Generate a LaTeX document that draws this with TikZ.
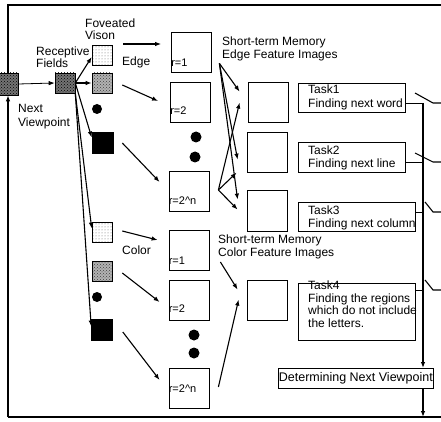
\documentclass[tikz,border=0pt]{standalone}
\usepackage{fontspec}
\setmainfont{Liberation Sans}
\usetikzlibrary{arrows.meta,calc,patterns}
\begin{document}
\begin{tikzpicture}[x=1pt,y=-1pt,
  every node/.style={font=\fontsize{12}{13}\selectfont},
  txt/.style={inner sep=0pt, align=left, anchor=west},
  tasktxt/.style={inner sep=0pt, align=left, anchor=north west},
  rbox/.style={draw, line width=0.8pt, minimum width=40pt, minimum height=40pt, inner sep=0pt},
  sq/.style={draw, line width=0.6pt, minimum width=20pt, minimum height=20pt, inner sep=0pt},
  lightsq/.style={sq, preaction={fill=white}, pattern=dots, pattern color=black!60},
  medsq/.style={sq, preaction={fill=black!30}, pattern=crosshatch dots, pattern color=black!75},
  darksq/.style={sq, preaction={fill=black!55}, pattern=crosshatch dots, pattern color=black},
  blacksq/.style={sq, fill=black},
  dotc/.style={circle, fill=black, minimum size=10pt, inner sep=0pt},
  taskbox/.style={draw, line width=0.7pt, inner sep=0pt, anchor=north west},
  arr/.style={line width=1.1pt, -{Latex[length=6pt,width=4.5pt]}},
  ln/.style={line width=1.1pt},
  frameline/.style={line width=1.6pt},
  rlab/.style={font=\fontsize{11}{11}\selectfont, inner sep=0pt, anchor=base west},
]
\useasboundingbox (0,0) rectangle (441,422);

% frame corners
\coordinate (tl) at (8,5);
\coordinate (tr) at (441,5);
\coordinate (bl) at (8,417);
\coordinate (br) at (441,417);
\draw[frameline] (tr) -- (tl) -- (8,73);
\draw[frameline] (br) -- (bl);

% small squares
\node[darksq, minimum width=20pt, minimum height=22pt] (nv) at (8,84) {};
\node[darksq] (rf) at (65,83) {};
\node[lightsq] (e1) at (102,55) {};
\node[medsq] (e2) at (102,83) {};
\node[dotc] (ed) at (97,109) {};
\node[blacksq, minimum size=21pt] (e3) at (102.5,142.5) {};
\node[lightsq] (c1) at (102,232.5) {};
\node[medsq] (c2) at (102,271) {};
\node[dotc] (cd) at (97,297) {};
\node[blacksq, minimum size=21pt] (c3) at (102,329.5) {};

% r boxes
\node[rbox] (er1) at (191.5,52.5) {};
\node[rbox] (er2) at (190.5,102) {};
\node[dotc, minimum size=11pt] (erd1) at (196,137) {};
\node[dotc, minimum size=11pt] (erd2) at (195,157) {};
\node[rbox] (ern) at (189,191) {};
\node[rbox] (cr1) at (189,250) {};
\node[rbox] (cr2) at (189,300.5) {};
\node[dotc, minimum size=11pt] (crd1) at (194,335) {};
\node[dotc, minimum size=11pt] (crd2) at (194,353) {};
\node[rbox] (crn) at (189,388) {};

\node[rlab] (er1l) at ([yshift=6pt]er1.south west) {r=1};
\node[rlab] (er2l) at ([yshift=8pt]er2.south west) {r=2};
\node[rlab] (ernl) at ([yshift=7pt]ern.south west) {r=2\textasciicircum n};
\node[rlab] (cr1l) at ([yshift=6pt]cr1.south west) {r=1};
\node[rlab] (cr2l) at ([yshift=8pt]cr2.south west) {r=2};
\node[rlab] (crnl) at ([yshift=16pt]crn.south west) {r=2\textasciicircum n};

% memory boxes
\node[rbox] (m1) at (268.5,102) {};
\node[rbox] (m2) at (267,152) {};
\node[rbox, minimum height=41pt] (m3) at (267,210.5) {};
\node[rbox] (cm) at (267,300) {};

% tasks
\node[taskbox, minimum width=107pt, minimum height=29pt] (t1) at (298,83) {};
\node[taskbox, minimum width=107pt, minimum height=30pt] (t2) at (298,142) {};
\node[taskbox, minimum width=117pt, minimum height=29pt] (t3) at (298,202) {};
\node[taskbox, minimum width=117pt, minimum height=57pt] (t4) at (298,283) {};
\node[tasktxt, font=\fontsize{12}{13.5}\selectfont] (t1x) at (308,85) {Task1\\Finding next word};
\node[tasktxt, font=\fontsize{12}{13.4}\selectfont] (t2x) at (308,145.2) {Task2\\Finding next line};
\node[tasktxt, font=\fontsize{12}{13.3}\selectfont] (t3x) at (308,205.7) {Task3\\Finding next column};
\node[tasktxt, font=\fontsize{12}{12.5}\selectfont] (t4x) at (308,281) {Task4\\Finding the regions\\which do not include\\the letters.};
\node[taskbox, minimum width=155pt, minimum height=20pt, font=\fontsize{12.5}{13}\selectfont] (det) at (278,368) {Determining Next Viewpoint};

% labels
\node[txt, font=\fontsize{12}{12}\selectfont] (fov) at (85,29) {Foveated\\Vison};
\node[txt, font=\fontsize{12}{12}\selectfont] (rec) at (36,57.5) {Receptive\\Fields};
\node[txt] (edge) at (122,62) {Edge};
\node[txt, font=\fontsize{12}{14}\selectfont] (nvt) at (18,117) {Next\\Viewpoint};
\node[txt] (col) at (122,250) {Color};
\node[txt] (stme) at (222,48.5) {Short-term Memory\\Edge Feature Images};
\node[txt] (stmc) at (218,246.5) {Short-term Memory\\Color Feature Images};

% feedback loop
\draw[frameline, -{Latex[length=6pt,width=4.5pt]}] (bl) -- (nv.south);
\draw[arr, line width=0.8pt] (nv.east) -- (rf.west);

% receptive field to feature squares
\draw[arr] (rf.east) -- ([yshift=-2pt]e1.west);
\draw[arr] (rf.east) -- (e2.west);
\draw[arr] (rf.east) -- ([yshift=5pt]e3.west);
\draw[arr] (rf.south east) -- ([yshift=4pt]c1.west);
\draw[arr] (rf.south east) -- ([yshift=3pt]c3.west);

% squares to r boxes
\draw[arr] ($(e1.east)+(11,-11)$) -- ($(er1.west)+(-10,-8.5)$);
\draw[arr] ($(e2.east)+(10,2)$) -- ($(er2.west)+(-12,-1)$);
\draw[arr] ($(e3.east)+(9,0.5)$) -- ($(ern.west)+(-9,-9)$);
\draw[arr] ($(c1.east)+(10,-1.5)$) -- ($(cr1.west)+(-11,-10)$);
\draw[arr] ($(c2.east)+(10,2)$) -- ($(cr2.west)+(-9,1.5)$);
\draw[arr] ($(c3.east)+(10,2.5)$) -- ($(crn.west)+(-9,-8)$);

% fans to memory
\coordinate (p1) at ($(er1.south east)+(7.5,-9.5)$);
\coordinate (p2) at ($(ern.east)+(9,-1)$);
\coordinate (p3) at ($(cr1.east)+(11,12)$);
\coordinate (p4) at ($(crn.east)+(9,-1)$);
\draw[arr] (p1) -- ($(m1.north west)+(-8.5,10)$);
\draw[arr] (p1) -- ($(m2.north west)+(-9,28)$);
\draw[arr] (p1) -- ($(m3.north west)+(-9,10)$);
\draw[arr] (p2) -- ($(m1.north west)+(-8.5,21)$);
\draw[arr] (p2) -- ($(m2.north west)+(-10,41)$);
\draw[arr] (p2) -- ($(m3.north west)+(-9,20)$);
\draw[arr] (p3) -- ($(cm.north west)+(-9,10)$);
\draw[arr] (p4) -- ($(cm.north west)+(-8,20)$);

% bus
\coordinate (b1) at (423,103);
\coordinate (b2) at (423,162);
\coordinate (b3) at (423,212);
\coordinate (b4) at (423,290);
\draw[line width=0.9pt] (t1.east |- b1) -- (b1);
\draw[line width=0.9pt] (t2.east |- b2) -- (b2);
\draw[line width=0.9pt] (t3.east |- b3) -- (b3);
\draw[line width=0.9pt] (t4.east |- b4) -- (b4);
\draw[arr] (b1) -- (b1 |- det.north);
\draw[arr] (b1 |- det.south) -- (b1 |- bl);

% switches
\draw[ln] (415,93) -- (433,103) -- (441,103);
\draw[ln] (415,153) -- (433,162) -- (441,162);
\draw[ln] (425,202) -- (433,212) -- (441,212);
\draw[ln] (425,280) -- (433,290) -- (441,290);
\end{tikzpicture}
\end{document}
